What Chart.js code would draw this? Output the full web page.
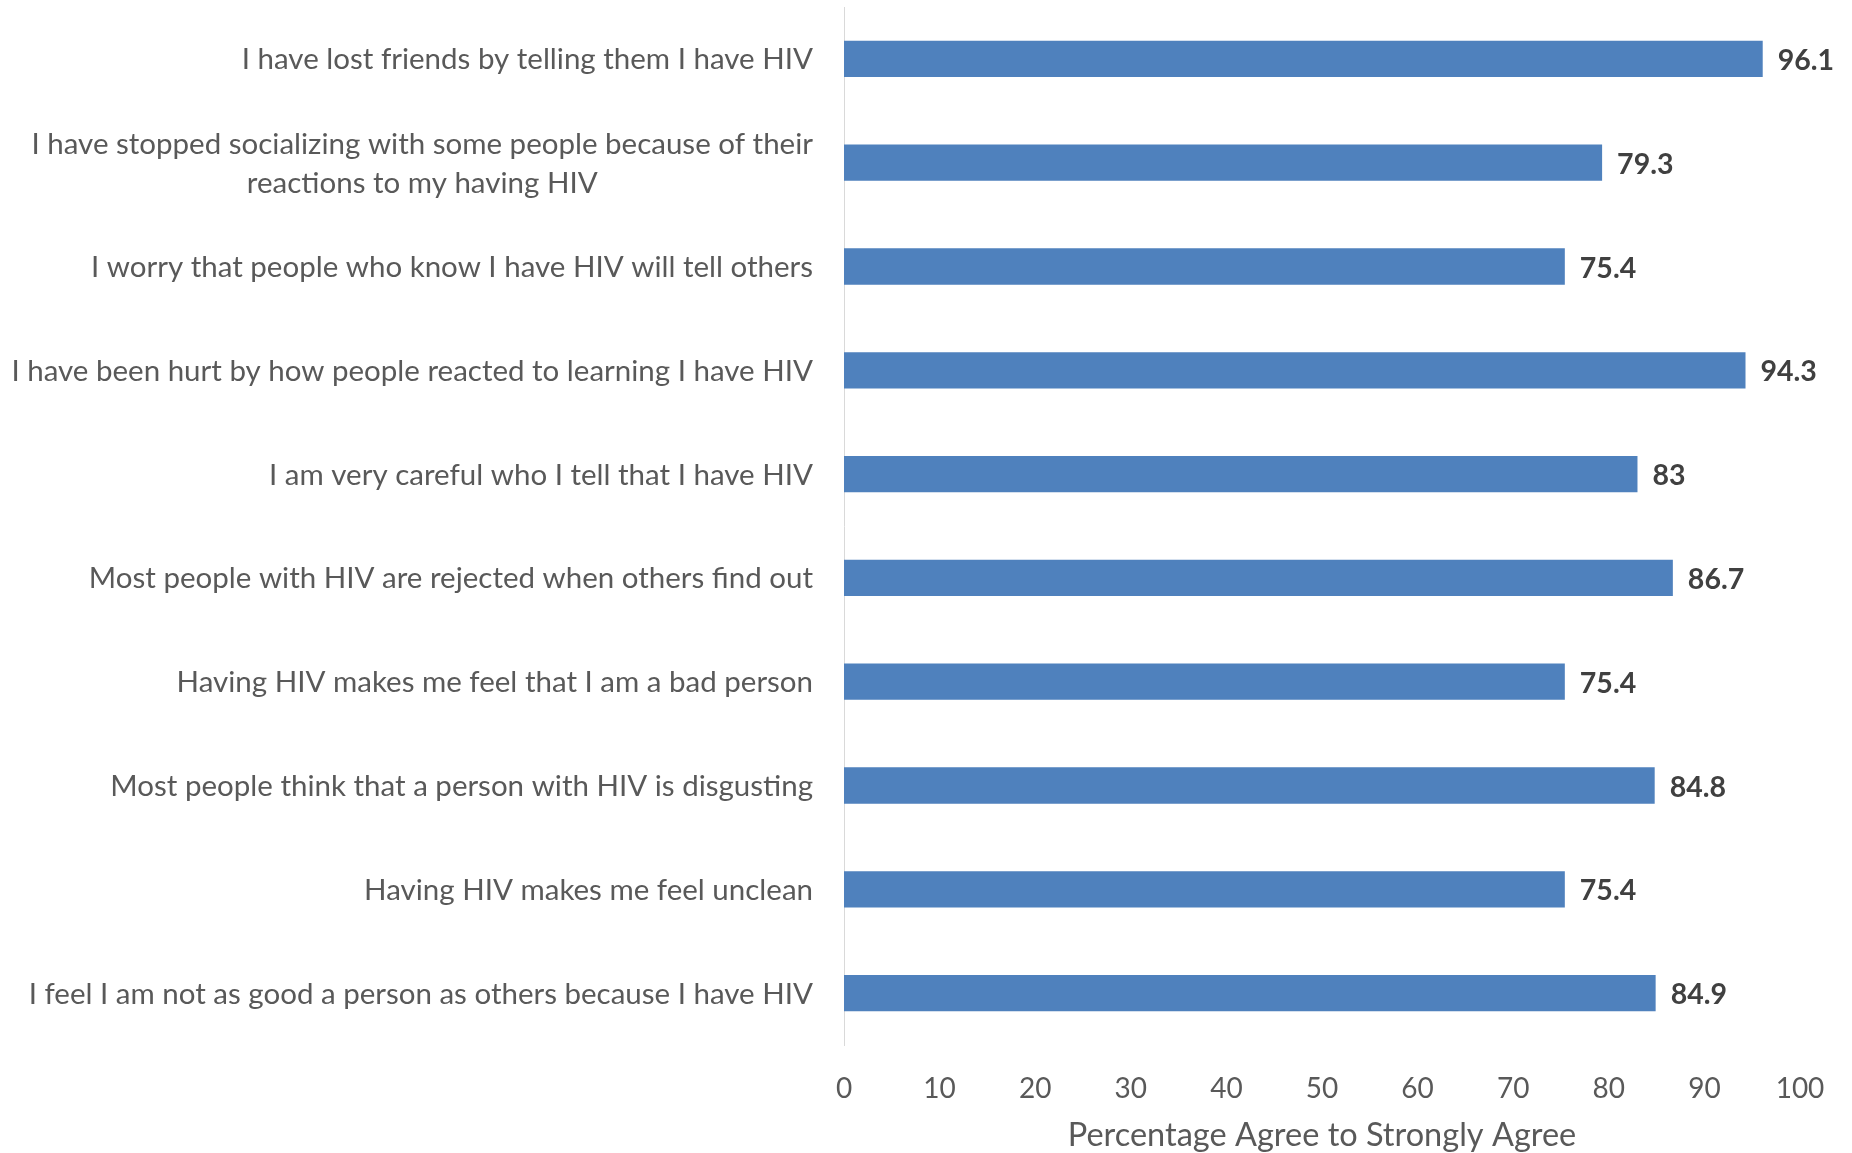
<!DOCTYPE html>
<html>
<head>
<meta charset="utf-8">
<script src="https://cdn.jsdelivr.net/npm/chart.js@4"></script>
<style>
  html, body { margin: 0; padding: 0; background: #fff; }
  #wrap { width: 1852px; height: 1153px; }
</style>
</head>
<body>
<div id="wrap"><canvas id="stigmaChart" width="1852" height="1153"></canvas></div>
<script>
  const statements = [
    ["I have lost friends by telling them I have HIV"],
    ["I have stopped socializing with some people because of their", "reactions to my having HIV"],
    ["I worry that people who know I have HIV will tell others"],
    ["I have been hurt by how people reacted to learning I have HIV"],
    ["I am very careful who I tell that I have HIV"],
    ["Most people with HIV are rejected when others find out"],
    ["Having HIV makes me feel that I am a bad person"],
    ["Most people think that a person with HIV is disgusting"],
    ["Having HIV makes me feel unclean"],
    ["I feel I am not as good a person as others because I have HIV"],
  ];
  const agreePct = [96.1, 79.3, 75.4, 94.3, 83, 86.7, 75.4, 84.8, 75.4, 84.9];
  const xTicks = [0, 10, 20, 30, 40, 50, 60, 70, 80, 90, 100];

  const labelFont = "Lato";

  // category labels: block right-aligned, lines centred within the block
  const categoryLabels = {
    id: "categoryLabels",
    afterDraw(chart) {
      const { ctx } = chart;
      const yScale = chart.scales.y;
      const right = chart.chartArea.left - 31;
      const lineH = 39;
      ctx.save();
      ctx.font = "29.5px " + labelFont;
      ctx.fillStyle = "#595959";
      ctx.textAlign = "center";
      ctx.textBaseline = "middle";
      statements.forEach((lines, i) => {
        const yc = yScale.getPixelForTick(i) + 1;
        const w = Math.max(...lines.map((l) => ctx.measureText(l).width));
        const xc = right - w / 2;
        const y0 = yc - ((lines.length - 1) * lineH) / 2;
        lines.forEach((l, j) => ctx.fillText(l, xc, y0 + j * lineH));
      });
      ctx.restore();
    },
  };

  const valueLabels = {
    id: "valueLabels",
    afterDatasetsDraw(chart) {
      const { ctx } = chart;
      const meta = chart.getDatasetMeta(0);
      ctx.save();
      ctx.font = "bold 28.5px " + labelFont;
      ctx.fillStyle = "#404040";
      ctx.textAlign = "left";
      ctx.textBaseline = "middle";
      meta.data.forEach((bar, i) => {
        ctx.fillText(String(agreePct[i]), bar.x + 15, bar.y + 2);
      });
      ctx.restore();
    },
  };

  const ctx = document.getElementById("stigmaChart");

  const chart = new Chart(ctx, {
    type: "bar",
    data: {
      labels: statements.map((s) => s.join(" ")),
      datasets: [
        {
          label: "Percentage Agree to Strongly Agree",
          data: agreePct,
          backgroundColor: "#4F81BD",
          borderWidth: 0,
          barPercentage: 0.35,
          categoryPercentage: 1,
        },
      ],
    },
    options: {
      indexAxis: "y",
      responsive: false,
      animation: false,
      layout: {
        padding: { top: 7, right: 52, left: 0, bottom: 0 },
      },
      scales: {
        x: {
          min: 0,
          max: 100,
          afterBuildTicks: (scale) => {
            scale.ticks = xTicks.map((v) => ({ value: v }));
          },
          afterFit: (scale) => {
            scale.height = 108;
          },
          grid: { display: false, drawTicks: false },
          border: { display: false },
          ticks: {
            padding: 27,
            color: "#595959",
            font: { family: labelFont, size: 28 },
            maxRotation: 0,
          },
          title: {
            display: true,
            text: "Percentage Agree to Strongly Agree",
            color: "#595959",
            font: { family: labelFont, size: 32.5, lineHeight: 1.1 },
            padding: { top: 0, bottom: 0 },
          },
        },
        y: {
          afterFit: (scale) => {
            scale.width = 844;
          },
          grid: { display: false, drawTicks: false },
          border: { display: true, color: "#d9d9d9", width: 1 },
          ticks: { display: false },
        },
      },
      plugins: {
        legend: { display: false },
        tooltip: { enabled: false },
      },
    },
    plugins: [categoryLabels, valueLabels],
  });
</script>
</body>
</html>
